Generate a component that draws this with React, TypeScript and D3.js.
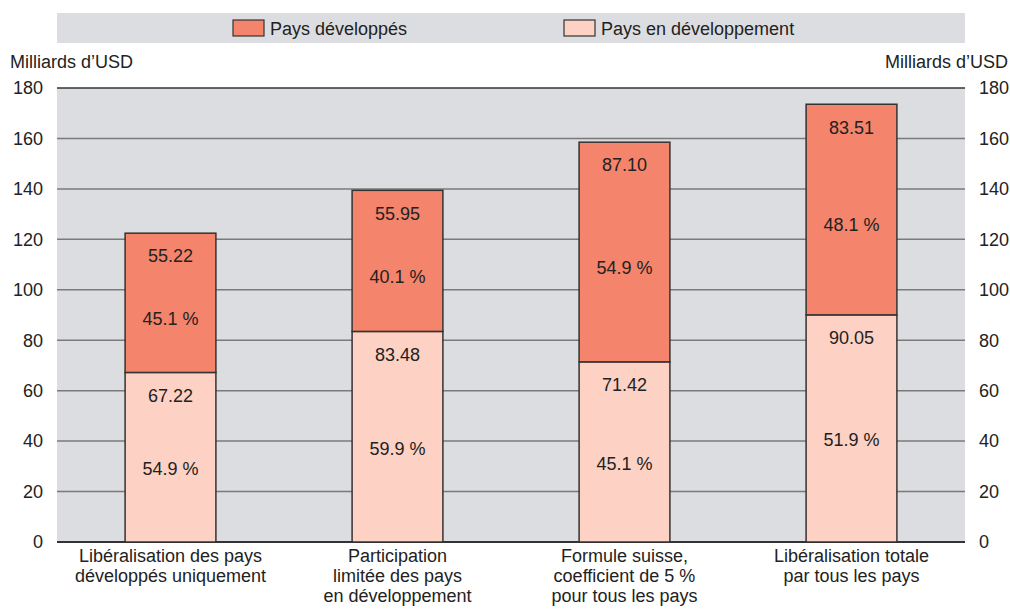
import { useEffect, useRef } from 'react';
import * as d3 from 'd3';

const categories = [
  ['Libéralisation des pays', 'développés uniquement'],
  ['Participation', 'limitée des pays', 'en développement'],
  ['Formule suisse,', 'coefficient de 5 %', 'pour tous les pays'],
  ['Libéralisation totale', 'par tous les pays'],
];
const developing = [67.22, 83.48, 71.42, 90.05];
const developed = [55.22, 55.95, 87.1, 83.51];
const developingPct = ['54.9 %', '59.9 %', '45.1 %', '51.9 %'];
const developedPct = ['45.1 %', '40.1 %', '54.9 %', '48.1 %'];
const yTicks = [0, 20, 40, 60, 80, 100, 120, 140, 160, 180];
const seriesNames = ['Pays développés', 'Pays en développement'];

const W = 1010;
const H = 614;
const FONT = '"Liberation Sans", Arial, Helvetica, sans-serif';
const FS = 18;
const BG = '#dcdde0';
const DARK = '#f4846b';
const LIGHT = '#fdd1c3';
const TXT = '#222';

const App = () => {
  const svgRef = useRef<SVGSVGElement>(null);

  useEffect(() => {
    const svg = d3.select(svgRef.current);
    svg.selectAll('*').remove();

    const left = 57, right = 965, top = 88, bottom = 542;

    const x = d3.scaleBand<number>()
      .domain(d3.range(categories.length))
      .range([left, right])
      .paddingInner(0.6)
      .paddingOuter(0.3);
    const y = d3.scaleLinear().domain([0, 180]).range([bottom, top]);

    // legend band
    svg.append('rect').attr('x', left).attr('y', 13).attr('width', right - left).attr('height', 30).attr('fill', BG);
    const legendX = [233, 564];
    [DARK, LIGHT].forEach((c, i) => {
      svg.append('rect').attr('x', legendX[i]).attr('y', 20).attr('width', 31).attr('height', 16)
        .attr('fill', c).attr('stroke', '#333').attr('stroke-width', 1.2);
      svg.append('text').attr('x', legendX[i] + 37).attr('y', 35).attr('font-size', FS)
        .attr('font-family', FONT).attr('fill', TXT).text(seriesNames[i]);
    });

    // plot background
    svg.append('rect').attr('x', left).attr('y', top).attr('width', right - left).attr('height', bottom - top).attr('fill', BG);

    // gridlines
    svg.append('g').selectAll('line').data(yTicks).join('line')
      .attr('x1', left).attr('x2', right)
      .attr('y1', (d) => y(d)).attr('y2', (d) => y(d))
      .attr('stroke', (d) => (d === 0 || d === 180 ? '#333' : '#7a7a7a'))
      .attr('stroke-width', (d) => (d === 0 ? 2 : 1.5));

    // tick labels
    const tickText = (xPos: number, anchor: string) =>
      svg.append('g').selectAll('text').data(yTicks).join('text')
        .attr('x', xPos).attr('y', (d) => y(d)).attr('dy', '0.35em')
        .attr('text-anchor', anchor).attr('font-size', FS).attr('font-family', FONT)
        .attr('fill', TXT).text((d) => d);
    tickText(43, 'end');
    tickText(979, 'start');

    svg.append('text').attr('x', 10).attr('y', 68).attr('font-size', FS).attr('font-family', FONT)
      .attr('fill', TXT).text('Milliards d’USD');
    svg.append('text').attr('x', 1008).attr('y', 68).attr('text-anchor', 'end').attr('font-size', FS)
      .attr('font-family', FONT).attr('fill', TXT).text('Milliards d’USD');

    const bw = x.bandwidth();
    const g = svg.append('g');

    categories.forEach((_, i) => {
      const x0 = x(i)!;
      const cx = x0 + bw / 2;
      const lowTop = y(developing[i]);
      const highTop = y(developing[i] + developed[i]);

      g.append('rect').attr('x', x0).attr('y', lowTop).attr('width', bw).attr('height', bottom - lowTop)
        .attr('fill', LIGHT).attr('stroke', '#333').attr('stroke-width', 1.5);
      g.append('rect').attr('x', x0).attr('y', highTop).attr('width', bw).attr('height', lowTop - highTop)
        .attr('fill', DARK).attr('stroke', '#333').attr('stroke-width', 1.5);

      const label = (ty: number, t: string) =>
        g.append('text').attr('x', cx).attr('y', ty).attr('dy', '0.35em').attr('text-anchor', 'middle')
          .attr('font-size', FS).attr('font-family', FONT).attr('fill', TXT).text(t);

      const v1 = highTop + 23;
      label(v1, developed[i].toFixed(2));
      label((v1 + lowTop) / 2 + 4, developedPct[i]);
      const v2 = lowTop + 23;
      label(v2, developing[i].toFixed(2));
      label((v2 + bottom) / 2, developingPct[i]);

      categories[i].forEach((ln, k) => {
        g.append('text').attr('x', cx).attr('y', 562 + k * 20).attr('text-anchor', 'middle')
          .attr('font-size', FS).attr('font-family', FONT).attr('fill', TXT).text(ln);
      });
    });
  }, []);

  return (
    <svg
      ref={svgRef}
      width={W}
      height={H}
      style={{ position: 'absolute', left: 0, top: 0, background: '#fff' }}
    />
  );
};

export default App;
